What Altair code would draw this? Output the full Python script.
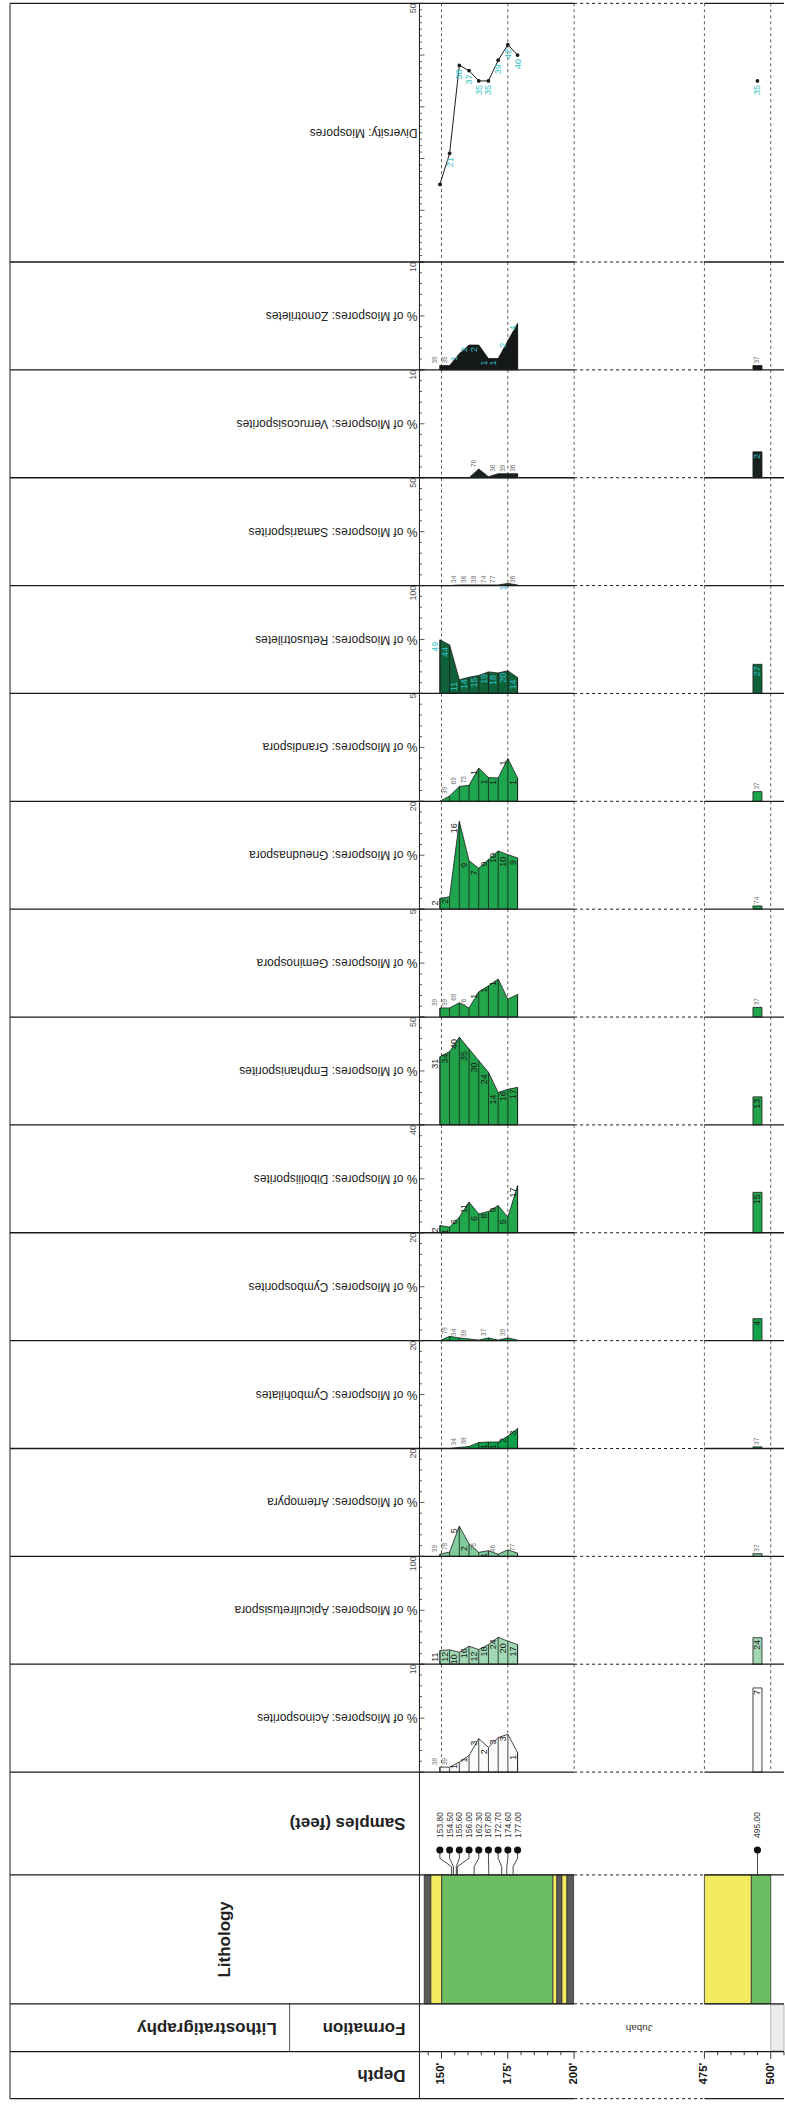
import altair as alt
import pandas as pd

# ---------------------------------------------------------------
# Samples (feet)
# ---------------------------------------------------------------
upper_depths = [153.80, 154.50, 155.60, 156.00, 162.30, 167.80, 172.70, 174.60, 177.00]
upper_names = ["153.80", "154.50", "155.60", "156.00", "162.30", "167.80", "172.70", "174.60", "177.00"]
deep_depth = 495.00
deep_name = "495.00"

# Diversity: miospore taxa per sample (9 upper samples, then 495 ft)
diversity_vals = [15, 21, 38, 37, 35, 35, 39, 42, 40, 35]
diversity_lbls = ["", "21", "38", "37", "35", "35", "39", "42", "40", "35"]

# % of miospores per taxon (9 upper samples, then 495 ft),
# specimen counts printed on the curves, and small grey notes
zonotriletes_pct = [0.4, 0.4, 1.5, 2.3, 2.3, 1.05, 1.05, 2.7, 4.3, 0.4]
zonotriletes_cnt = ["", "", "1", "2", "2", "1", "1", "2", "4", ""]
zonotriletes_note = ["39", "39", "", "", "", "", "", "", "", "37"]

verrucosisporites_pct = [0, 0, 0, 0, 0.8, 0.1, 0.37, 0.37, 0.37, 2.4]
verrucosisporites_cnt = ["", "", "", "", "", "", "", "", "", "2"]
verrucosisporites_note = ["", "", "", "", "76", "", "36", "39", "36", ""]

samarisporites_pct = [0, 0, 0.3, 0.3, 0.3, 0.3, 0.3, 1.0, 0.3, 0]
samarisporites_cnt = ["", "", "", "", "", "", "", "1", "", ""]
samarisporites_note = ["", "", "34", "36", "38", "74", "77", "", "36", ""]

retusotriletes_pct = [49.7, 45, 12.7, 15, 16.7, 20, 19, 21, 14.8, 27]
retusotriletes_cnt = ["49", "44", "11", "14", "15", "19", "18", "20", "14", "27"]
retusotriletes_note = ["", "", "", "", "", "", "", "", "", ""]

grandispora_pct = [0, 0.25, 0.69, 0.74, 1.54, 1.1, 1.08, 1.98, 1.08, 0.45]
grandispora_cnt = ["", "", "", "", "1", "1", "1", "1", "1", ""]
grandispora_note = ["", "39", "69", "75", "", "", "", "", "", "37"]

gneudnaspora_pct = [2.0, 2.3, 16.3, 9.0, 7.6, 9.2, 10.8, 10.1, 9.5, 0.6]
gneudnaspora_cnt = ["2", "2", "16", "9", "7", "9", "10", "10", "9", ""]
gneudnaspora_note = ["", "", "", "", "", "", "", "", "", "74"]

geminospora_pct = [0.42, 0.42, 0.66, 0.42, 1.17, 1.45, 1.76, 0.83, 1.05, 0.45]
geminospora_cnt = ["", "", "", "", "1", "1", "1", "", "", ""]
geminospora_note = ["39", "39", "69", "76", "", "", "", "77", "", "37"]

emphanisporites_pct = [31.6, 34, 40.7, 35.2, 29.8, 24.4, 15, 16.5, 17.4, 13]
emphanisporites_cnt = ["31", "34", "40", "35", "30", "24", "14", "16", "17", "13"]
emphanisporites_note = ["", "", "", "", "", "", "", "", "", ""]

diboliisporites_pct = [2.7, 2.1, 5.8, 11.4, 7.0, 7.9, 10.1, 5.8, 17.5, 15]
diboliisporites_cnt = ["2", "1", "6", "11", "6", "8", "9", "5", "17", "15"]
diboliisporites_note = ["", "", "", "", "", "", "", "", "", ""]

cymbosporites_pct = [0, 0.8, 0.5, 0.3, 0.1, 0.5, 0.1, 0.5, 0.1, 4.07]
cymbosporites_cnt = ["", "", "", "", "", "", "", "", "", "4"]
cymbosporites_note = ["", "78", "34", "38", "", "37", "", "39", "", ""]

cymbohilates_pct = [0, 0, 0.2, 0.37, 1.1, 1.2, 1.2, 2.3, 3.7, 0.3]
cymbohilates_cnt = ["", "", "", "", "", "1", "1", "2", "3", ""]
cymbohilates_note = ["", "", "34", "38", "", "", "", "", "", "37"]

artemopyra_pct = [0.4, 0.8, 5.6, 2.3, 0.74, 1.05, 0.4, 1.2, 0.6, 0.5]
artemopyra_cnt = ["", "", "5", "2", "", "1", "", "", "", ""]
artemopyra_note = ["39", "78", "", "", "76", "", "46", "", "77", "37"]

apiculiretusispora_pct = [12.7, 13.3, 11.1, 16.7, 13.6, 18.2, 25, 21.3, 18.2, 24.6]
apiculiretusispora_cnt = ["11", "12", "10", "16", "12", "18", "24", "20", "17", "24"]
apiculiretusispora_note = ["", "", "", "", "", "", "", "", "", ""]

acinosporites_pct = [0.46, 0.46, 0.93, 1.54, 3.1, 2.3, 3.2, 3.5, 1.8, 7.8]
acinosporites_cnt = ["", "", "1", "1", "3", "2", "3", "3", "1", "7"]
acinosporites_note = ["39", "39", "", "", "", "", "", "", "", ""]

# Lithology intervals (feet)
lith_tops = [143.5, 146.0, 150.1, 192.0, 193.5, 195.4, 197.3, 475.0, 492.7]
lith_bases = [146.0, 150.1, 192.0, 193.5, 195.4, 197.3, 199.8, 492.7, 500.0]
lith_kinds = ["shale", "sandstone", "siltstone", "sandstone", "shale",
              "sandstone", "shale", "sandstone", "siltstone"]

formation_name = "Jubah"
next_unit_top = 500.0

# Depth scale ticks (feet)
depth_ticks = [145, 150, 155, 160, 165, 170, 175, 180, 185, 190, 195, 200,
               475, 480, 485, 490, 495, 500, 505]
depth_labels = [150, 175, 200, 475, 500]

# ---------------------------------------------------------------
# Layout and the broken depth track
# ---------------------------------------------------------------
W = 785
HEAD_X = 10
AXIS_X = 420
GAP_TOP, GAP_BASE = 200.0, 475.0
GAP_SHOWN = 49.1
SHIFT = GAP_BASE - GAP_TOP - GAP_SHOWN
TRACK_TOP, TRACK_BASE = 141.7, 505.0
X_MIN, X_MAX = TRACK_TOP, TRACK_BASE - SHIFT
XS = alt.Scale(domain=[X_MIN, X_MAX], range=[AXIS_X, W], nice=False, zero=False)

SLOT_START, SLOT_STEP = 149.4, 3.66   # evenly spread plotting slots for the upper samples
BAR_HALF = 1.7

DIV_H, PANEL_H, SAMPLE_H, LITH_H, FORM_H, DEPTH_H = 259, 108, 103, 129, 48, 47
FONT = "Liberation Sans"
INK = "#1a1a1a"
CYAN = "#35bfc6"
GREY = "#6f6f6f"

ONE = pd.DataFrame({"t": [""]})
slots = [SLOT_START + i * SLOT_STEP for i in range(len(upper_depths))]


def pc(field):
    return f"datum.{field} <= {GAP_TOP} ? datum.{field} : datum.{field} - {SHIFT}"


def frame(h, last=False):
    """Row borders: header rules, track rules (dashed across the gap), verticals."""
    segs = pd.DataFrame({"a": [TRACK_TOP, GAP_TOP, GAP_BASE],
                         "b": [GAP_TOP, GAP_BASE, TRACK_BASE],
                         "dash": [0, 1, 0]})
    out = []
    for y in [0] + ([h] if last else []):
        base = alt.Chart(segs).transform_calculate(xa=pc("a"), xb=pc("b"))
        enc = dict(x=alt.X("xa:Q", scale=XS, axis=None), x2="xb:Q", y=alt.value(y))
        out.append(base.transform_filter("datum.dash == 0")
                   .mark_rule(color=INK, strokeWidth=1.3).encode(**enc))
        out.append(base.transform_filter("datum.dash == 1")
                   .mark_rule(color=INK, strokeWidth=1, strokeDash=[3, 3]).encode(**enc))
        out.append(alt.Chart(ONE).mark_rule(color=INK, strokeWidth=1.3)
                   .encode(x=alt.value(HEAD_X), x2=alt.value(AXIS_X), y=alt.value(y)))
    for xv in (HEAD_X, AXIS_X):
        out.append(alt.Chart(ONE).mark_rule(color=INK, strokeWidth=1)
                   .encode(x=alt.value(xv), y=alt.value(0), y2=alt.value(h)))
    return out


def depth_grid(h):
    g = pd.DataFrame({"d": [150.0, 175.0, 200.0, 475.0, 500.0]})
    return (alt.Chart(g).transform_calculate(x=pc("d"))
            .mark_rule(color="#333", strokeWidth=0.8, strokeDash=[3, 3])
            .encode(x=alt.X("x:Q", scale=XS, axis=None), y=alt.value(0), y2=alt.value(h)))


def header_text(text, x, y, size=17, bold=True, angle=180, align="left", color="#222"):
    return (alt.Chart(pd.DataFrame({"t": [text]}))
            .mark_text(angle=angle, align=align, baseline="middle", fontSize=size,
                       fontWeight="bold" if bold else "normal", color=color)
            .encode(text="t:N", x=alt.value(x), y=alt.value(y)))


def value_scale_marks(ysc, vmax, step, major):
    """Ticks along the left edge of a track and the full-scale label at its top."""
    n = int(round(vmax / step))
    tk = pd.DataFrame({"v": [round(i * step, 4) for i in range(n + 1)]})
    tk["major"] = [1 if abs((v / major) - round(v / major)) < 1e-6 else 0 for v in tk["v"]]
    Yv = alt.Y("v:Q", scale=ysc, axis=None)
    minor = (alt.Chart(tk).transform_filter("datum.major == 0")
             .mark_rule(color="#333", strokeWidth=0.8)
             .encode(x=alt.value(AXIS_X), x2=alt.value(AXIS_X + 2.5), y=Yv))
    big = (alt.Chart(tk).transform_filter("datum.major == 1")
           .mark_rule(color="#333", strokeWidth=0.8)
           .encode(x=alt.value(AXIS_X), x2=alt.value(AXIS_X + 5), y=Yv))
    top = pd.DataFrame({"v": [vmax], "t": [f"{vmax:g}"]})
    lab = (alt.Chart(top).mark_text(angle=270, align="right", baseline="bottom",
                                    fontSize=9, color="#555")
           .encode(x=alt.value(AXIS_X - 1), y=Yv, text="t:N"))
    return [minor, big, lab]


def taxon_row(title, vmax, fill, pct, cnt, note, dark):
    h = PANEL_H
    n = len(upper_depths)
    up = pd.DataFrame({"d": slots, "value": pct[:n], "cnt": cnt[:n], "note": note[:n]})
    dp = pd.DataFrame({"d": [deep_depth], "value": [pct[n]], "cnt": [cnt[n]], "note": [note[n]]})
    ysc = alt.Scale(domain=[0, vmax], nice=False, zero=True)
    lc = CYAN if dark else INK
    X = alt.X("x:Q", scale=XS, axis=None)
    Yn = alt.Y("value:Q", scale=ysc, axis=None)

    bu = alt.Chart(up).transform_calculate(x=pc("d"), lx=f"({pc('d')}) - {SLOT_STEP / 2}")
    bd = (alt.Chart(dp).transform_calculate(x=pc("d"))
          .transform_calculate(x0=f"datum.x - {BAR_HALF}", x1=f"datum.x + {BAR_HALF}"))

    area = bu.mark_area(fill=fill, stroke=INK, strokeWidth=0.8, interpolate="linear").encode(x=X, y=Yn)
    drops = bu.mark_rule(color=INK, strokeWidth=0.8).encode(x=X, y=Yn, y2=alt.value(h))
    bar = (bd.transform_filter("datum.value > 0")
           .mark_rect(fill=fill, stroke=INK, strokeWidth=0.8)
           .encode(x=alt.X("x0:Q", scale=XS, axis=None), x2="x1:Q", y=Yn, y2=alt.value(h)))
    up_cnt = (bu.transform_filter("datum.cnt != ''")
              .mark_text(angle=270, align="right", baseline="middle", dx=-2, fontSize=9, color=lc)
              .encode(x=alt.X("lx:Q", scale=XS, axis=None), y=Yn, text="cnt:N"))
    up_note = (bu.transform_filter("datum.note != ''")
               .mark_text(angle=270, align="left", baseline="middle", dx=2, fontSize=6.5, color=GREY)
               .encode(x=alt.X("lx:Q", scale=XS, axis=None), y=Yn, text="note:N"))
    dp_cnt = (bd.transform_filter("datum.cnt != ''")
              .mark_text(angle=270, align="right", baseline="middle", dx=-2, fontSize=9, color=lc)
              .encode(x=X, y=Yn, text="cnt:N"))
    dp_note = (bd.transform_filter("datum.note != ''")
               .mark_text(angle=270, align="left", baseline="middle", dx=2, fontSize=6.5, color=GREY)
               .encode(x=X, y=Yn, text="note:N"))
    layers = [depth_grid(h), area, drops, bar, up_cnt, up_note, dp_cnt, dp_note,
              header_text(title, AXIS_X - 2, h / 2, size=12, bold=False)]
    layers += value_scale_marks(ysc, vmax, vmax / 10, vmax / 2)
    layers += frame(h)
    return alt.layer(*layers).properties(width=W, height=h)


def diversity_row():
    h = DIV_H
    n = len(upper_depths)
    pts = pd.DataFrame({"d": slots + [deep_depth], "value": diversity_vals,
                        "lbl": diversity_lbls, "upper": [1] * n + [0]})
    ysc = alt.Scale(domain=[0, 50], nice=False, zero=True)
    X = alt.X("x:Q", scale=XS, axis=None)
    Yn = alt.Y("value:Q", scale=ysc, axis=None)
    b = alt.Chart(pts).transform_calculate(x=pc("d"))
    line = (b.transform_filter("datum.upper == 1")
            .mark_line(color=INK, strokeWidth=1).encode(x=X, y=Yn))
    dots = b.mark_circle(size=14, color=INK, opacity=1).encode(x=X, y=Yn)
    lbls = (b.transform_filter("datum.lbl != ''")
            .mark_text(angle=270, align="right", baseline="middle", dx=-4, fontSize=9, color=CYAN)
            .encode(x=X, y=Yn, text="lbl:N"))
    layers = [depth_grid(h), line, dots, lbls,
              header_text("Diversity: Miospores", AXIS_X - 2, h / 2, size=12, bold=False)]
    layers += value_scale_marks(ysc, 50, 1.25, 10)
    layers += frame(h)
    return alt.layer(*layers).properties(width=W, height=h)


def samples_row():
    h = SAMPLE_H
    n = len(upper_depths)
    marks = pd.DataFrame({"d": slots + [deep_depth], "name": upper_names + [deep_name]})
    path_rows = []
    for i in range(n + 1):
        slot = slots[i] if i < n else deep_depth
        true = upper_depths[i] if i < n else deep_depth
        for stage, dd in enumerate([slot, slot, true, true]):
            path_rows.append({"sid": i, "stage": stage, "d": dd})
    paths = pd.DataFrame(path_rows)
    X = alt.X("x:Q", scale=XS, axis=None)
    link = (alt.Chart(paths).transform_calculate(x=pc("d"))
            .mark_line(color="#333", strokeWidth=0.9)
            .encode(x=X, y=alt.Y("stage:Q", scale=alt.Scale(domain=[0, 3], range=[78, h]), axis=None),
                    detail="sid:N", order="stage:Q"))
    b = alt.Chart(marks).transform_calculate(x=pc("d"))
    dots = b.mark_circle(size=50, color="#111", opacity=1).encode(x=X, y=alt.value(78))
    names = (b.mark_text(angle=270, align="left", baseline="middle", fontSize=8.5, color="#333")
             .encode(x=X, y=alt.value(66), text="name:N"))
    layers = [link, dots, names, header_text("Samples (feet)", 406, 51)]
    layers += frame(h)
    return alt.layer(*layers).properties(width=W, height=h)


def lithology_row():
    h = LITH_H
    lith = pd.DataFrame({"top": lith_tops, "base": lith_bases, "kind": lith_kinds})
    bands = (alt.Chart(lith).transform_calculate(x0=pc("top"), x1=pc("base"))
             .mark_rect(stroke="#333", strokeWidth=0.8)
             .encode(x=alt.X("x0:Q", scale=XS, axis=None), x2="x1:Q",
                     y=alt.value(0), y2=alt.value(h),
                     fill=alt.Fill("kind:N", legend=None,
                                   scale=alt.Scale(domain=["shale", "sandstone", "siltstone"],
                                                   range=["#5a5a5a", "#f2ea5f", "#6dbd62"]))))
    layers = [bands, header_text("Lithology", 225, h / 2, angle=270, align="center")]
    layers += frame(h)
    return alt.layer(*layers).properties(width=W, height=h)


def formation_row():
    h = FORM_H
    unit = pd.DataFrame({"top": [next_unit_top], "base": [TRACK_BASE]})
    nxt = (alt.Chart(unit).transform_calculate(x0=pc("top"), x1=pc("base"))
           .mark_rect(fill="#ececec", stroke="#aaa", strokeWidth=0.8)
           .encode(x=alt.X("x0:Q", scale=XS, axis=None), x2="x1:Q",
                   y=alt.value(1), y2=alt.value(h - 1)))
    divider = alt.Chart(ONE).mark_rule(color="#555", strokeWidth=1).encode(
        x=alt.value(290), y=alt.value(0), y2=alt.value(h))
    layers = [nxt, divider,
              header_text("Formation", 406, h / 2),
              header_text("Lithostratigraphy", 277, h / 2),
              header_text(formation_name, 640, h / 2, size=10, bold=False, align="center", color="#333")]
    layers += frame(h)
    return alt.layer(*layers).properties(width=W, height=h)


def depth_row():
    h = DEPTH_H
    td = pd.DataFrame({"d": [float(v) for v in depth_ticks]})
    td["major"] = [1 if v in depth_labels else 0 for v in depth_ticks]
    td["t"] = [f"{v}'" for v in depth_ticks]
    X = alt.X("x:Q", scale=XS, axis=None)
    b = alt.Chart(td).transform_calculate(x=pc("d"))
    minor = (b.transform_filter("datum.major == 0")
             .mark_rule(color="#222", strokeWidth=0.9)
             .encode(x=X, y=alt.value(0), y2=alt.value(3.5)))
    major = (b.transform_filter("datum.major == 1")
             .mark_rule(color="#222", strokeWidth=0.9)
             .encode(x=X, y=alt.value(0), y2=alt.value(7)))
    labels = (b.transform_filter("datum.major == 1")
              .mark_text(angle=270, align="right", baseline="middle", fontSize=11.5,
                         fontWeight="bold", color="#111")
              .encode(x=X, y=alt.value(11), text="t:N"))
    layers = [minor, major, labels, header_text("Depth", 406, h / 2)]
    layers += frame(h, last=True)
    return alt.layer(*layers).properties(width=W, height=h)


taxa = [
    ("% of Miospores: Zonotriletes", 10, "#141818", zonotriletes_pct, zonotriletes_cnt, zonotriletes_note, True),
    ("% of Miospores: Verrucosisporites", 10, "#18231d", verrucosisporites_pct, verrucosisporites_cnt, verrucosisporites_note, True),
    ("% of Miospores: Samarisporites", 50, "#1d3b2a", samarisporites_pct, samarisporites_cnt, samarisporites_note, True),
    ("% of Miospores: Retusotriletes", 100, "#0f6138", retusotriletes_pct, retusotriletes_cnt, retusotriletes_note, True),
    ("% of Miospores: Grandispora", 5, "#1ea54d", grandispora_pct, grandispora_cnt, grandispora_note, False),
    ("% of Miospores: Gneudnaspora", 20, "#1fa54e", gneudnaspora_pct, gneudnaspora_cnt, gneudnaspora_note, False),
    ("% of Miospores: Geminospora", 5, "#22a64b", geminospora_pct, geminospora_cnt, geminospora_note, False),
    ("% of Miospores: Emphanisporites", 50, "#22a34a", emphanisporites_pct, emphanisporites_cnt, emphanisporites_note, False),
    ("% of Miospores: Diboliisporites", 40, "#21a84c", diboliisporites_pct, diboliisporites_cnt, diboliisporites_note, False),
    ("% of Miospores: Cymbosporites", 20, "#13a24c", cymbosporites_pct, cymbosporites_cnt, cymbosporites_note, False),
    ("% of Miospores: Cymbohilates", 20, "#0fa04a", cymbohilates_pct, cymbohilates_cnt, cymbohilates_note, False),
    ("% of Miospores: Artemopyra", 20, "#7fcb9c", artemopyra_pct, artemopyra_cnt, artemopyra_note, False),
    ("% of Miospores: Apiculiretusispora", 100, "#a2d9b5", apiculiretusispora_pct, apiculiretusispora_cnt, apiculiretusispora_note, False),
    ("% of Miospores: Acinosporites", 10, "#f8fbf9", acinosporites_pct, acinosporites_cnt, acinosporites_note, False),
]

rows = [diversity_row()] + [taxon_row(*t) for t in taxa] + \
       [samples_row(), lithology_row(), formation_row(), depth_row()]

chart = (alt.vconcat(*rows, spacing=0, bounds="flush")
         .properties(padding={"left": 0, "top": 1, "right": 0, "bottom": 0})
         .configure(font=FONT)
         .configure_view(stroke=None))

chart.save("out.html", embed_options={"renderer": "svg", "actions": False})
